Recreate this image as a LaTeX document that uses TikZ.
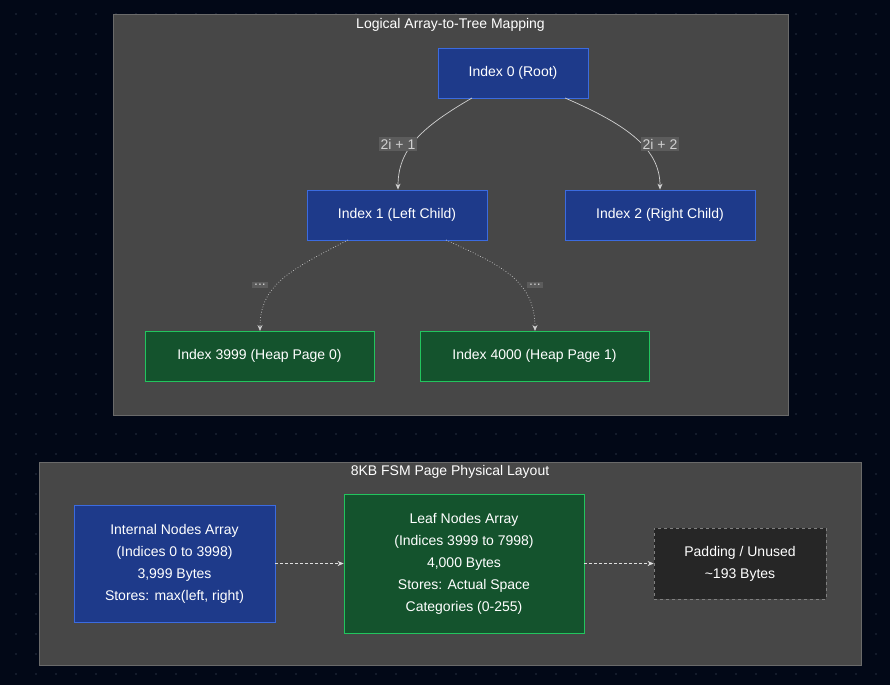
\documentclass[tikz,border=0pt]{standalone}
\usepackage{fontspec}
\setmainfont{Liberation Sans}
\usetikzlibrary{arrows.meta}
\definecolor{bg}{HTML}{020817}
\definecolor{dotc}{HTML}{1B2333}
\definecolor{panel}{HTML}{474747}
\definecolor{panelb}{HTML}{6A6A6A}
\definecolor{bfill}{HTML}{1E3A8A}
\definecolor{bline}{HTML}{3B6BE0}
\definecolor{gfill}{HTML}{14532D}
\definecolor{gline}{HTML}{22C55E}
\definecolor{lab}{HTML}{5C5C5C}
\definecolor{edge}{HTML}{D0D0D0}
\tikzset{
 pnl/.style={draw=panelb,fill=panel,line width=0.8pt},
 ttl/.style={text=white,font=\fontsize{14}{17}\selectfont},
 bnode/.style={draw=bline,fill=bfill,text=white,line width=0.8pt,font=\fontsize{14}{22}\selectfont,align=center},
 gnode/.style={draw=gline,fill=gfill,text=white,line width=0.8pt,font=\fontsize{14}{22}\selectfont,align=center},
 pnode/.style={draw=gray,dashed,fill=black!85,text=white,line width=0.8pt,font=\fontsize{14}{22}\selectfont,align=center},
 elab/.style={fill=lab,text=edge,inner sep=2pt,font=\fontsize{14}{17}\selectfont},
 con/.style={draw=edge,line width=0.7pt,-{Stealth[length=6pt,width=5pt]}},
 dcon/.style={con,dotted},
}
\begin{document}
\begin{tikzpicture}[x=1pt,y=-1pt]
\fill[bg] (0,0) rectangle (890,685);
\useasboundingbox (0,0) rectangle (890,685);
\foreach \i in {0,...,44}{\foreach \j in {0,...,34}{\fill[dotc] (\i*20+16,\j*20+14) circle (1.1);}}
% top panel
\node[pnl,minimum width=675,minimum height=401,anchor=north west,inner sep=0] (top) at (113,14) {};
\node[ttl] (toptitle) at (450.5,25) {Logical Array-to-Tree Mapping};
\node[bnode,minimum width=150,minimum height=50] (r) at (513,73) {Index 0 (Root)};
\node[bnode,minimum width=180,minimum height=50] (l1) at (397,215) {Index 1 (Left Child)};
\node[bnode,minimum width=190,minimum height=50] (r1) at (660,215) {Index 2 (Right Child)};
\node[gnode,minimum width=229,minimum height=50] (h0) at (259.5,356) {Index 3999 (Heap Page 0)};
\node[gnode,minimum width=229,minimum height=50] (h1) at (534.5,356) {Index 4000 (Heap Page 1)};
\draw[con] (472,98) .. controls (420,128) and (398,150) .. (l1.north -| 398,0);
\draw[con] (565,98) .. controls (630,126) and (660,150) .. (r1.north);
\node[elab] (la) at (398,144) {2i + 1};
\node[elab] (lb) at (660,144) {2i + 2};
\draw[dcon] (348,240) .. controls (290,270) and (260,285) .. (260,331);
\draw[dcon] (446,240) .. controls (500,265) and (535,280) .. (535,331);
\node[elab] (lc) at (260,285) {...};
\node[elab] (ld) at (535,285) {...};
% bottom panel
\node[pnl,minimum width=822,minimum height=203,anchor=north west,inner sep=0] (bot) at (39,462) {};
\node[ttl] (bottitle) at (450,472) {8KB FSM Page Physical Layout};
\node[bnode,minimum width=201,minimum height=117] (in) at (174.5,563.5) {Internal Nodes Array\\(Indices 0 to 3998)\\3,999 Bytes\\Stores: max(left, right)};
\node[gnode,minimum width=240,minimum height=139] (lf) at (464,563.5) {Leaf Nodes Array\\(Indices 3999 to 7998)\\4,000 Bytes\\Stores: Actual Space\\Categories (0-255)};
\node[pnode,minimum width=172,minimum height=71] (pd) at (740,563.5) {Padding / Unused\\\textasciitilde193 Bytes};
\draw[con,draw=edge!70,line width=0.5pt,densely dashed] (in) -- (lf);
\draw[con,draw=edge!70,line width=0.5pt,densely dashed] (lf) -- (pd);
\end{tikzpicture}
\end{document}
